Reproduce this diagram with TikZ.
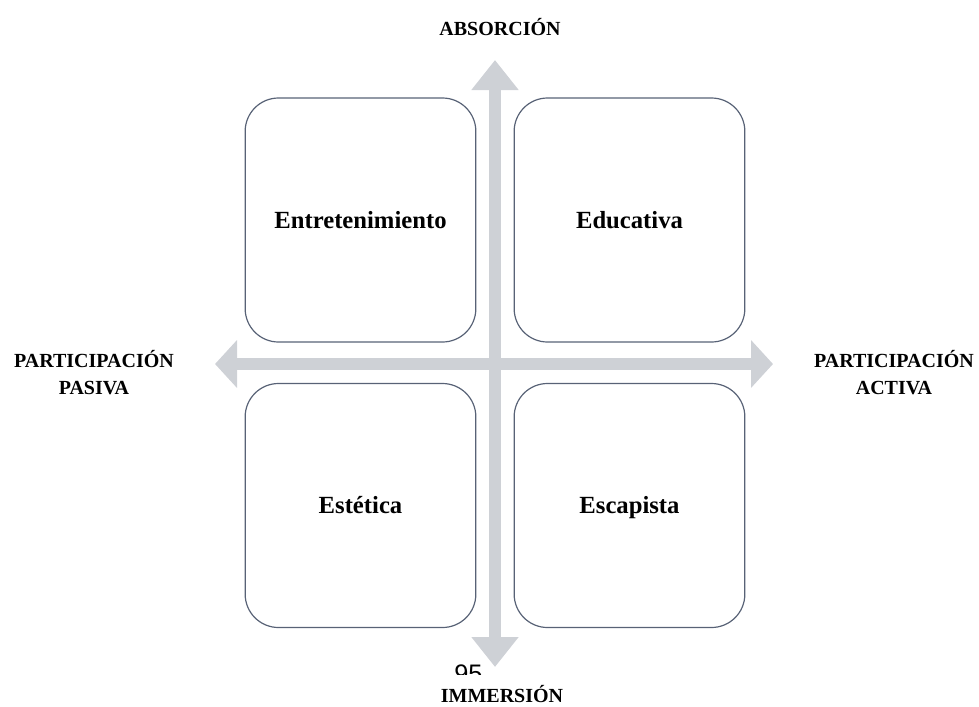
\documentclass[tikz,border=0pt]{standalone}
\usepackage{fontspec}
\setmainfont{Liberation Serif}
\newfontfamily\pagenumfont{Liberation Sans}
\usetikzlibrary{arrows.meta}
\definecolor{axisgray}{RGB}{206,209,214}
\definecolor{boxline}{RGB}{88,98,118}

\begin{document}
\begin{tikzpicture}
[
x=0.75pt, y=-0.75pt,
boxstyle/.style={rectangle, draw=boxline, line width=0.9pt, rounded corners=25pt, minimum width=173pt, minimum height=183pt, text height=12pt, text depth=0pt, text centered, font=\fontsize{18.5}{22}\selectfont\bfseries},
axisstyle/.style={draw=axisgray, line width=9.5pt},
vtip/.style={-{Triangle[width=34pt,length=22.5pt]}},
htip/.style={-{Triangle[width=35pt,length=16.5pt]}},
labelstyle/.style={inner sep=0pt, align=center, font=\fontsize{15}{20}\selectfont\bfseries}
]
\useasboundingbox (0,0) rectangle (979,707);

% axes
\coordinate (mid) at (495,364);
\coordinate (top) at (495,60);
\coordinate (bottom) at (495,667);
\coordinate (left) at (215,364);
\coordinate (right) at (773,364);
\draw[axisstyle,htip, fill=axisgray] (mid) -- (left);
\draw[axisstyle,htip, fill=axisgray] (mid) -- (right);
\draw[axisstyle,vtip, fill=axisgray] (mid) -- (top);
\draw[axisstyle,vtip, fill=axisgray] (mid) -- (bottom);

% quadrants
\node (entret) [boxstyle] at (360.5,220) {Entretenimiento};
\node (educ) [boxstyle] at (629.5,220) {Educativa};
\node (estet) [boxstyle] at (360.5,505.5) {Estética};
\node (escap) [boxstyle] at (629.5,505.5) {Escapista};

% axis labels
\node (absorcion) [labelstyle, anchor=base] at (500,35) {ABSORCIÓN};
\node (immersion) [labelstyle, anchor=base] at (502,702) {IMMERSIÓN};
\node (pasiva) [labelstyle, anchor=north] at (94,350) {PARTICIPACIÓN\\PASIVA};
\node (activa) [labelstyle, anchor=north] at (894,350) {PARTICIPACIÓN\\ACTIVA};

% cut page number
\begin{scope}
\clip (440,655) rectangle (520,674);
\node (pagenum) [anchor=north west, inner sep=0pt, font=\pagenumfont\fontsize{19}{22}\selectfont] at (454,665) {95};
\end{scope}
\end{tikzpicture}
\end{document}
